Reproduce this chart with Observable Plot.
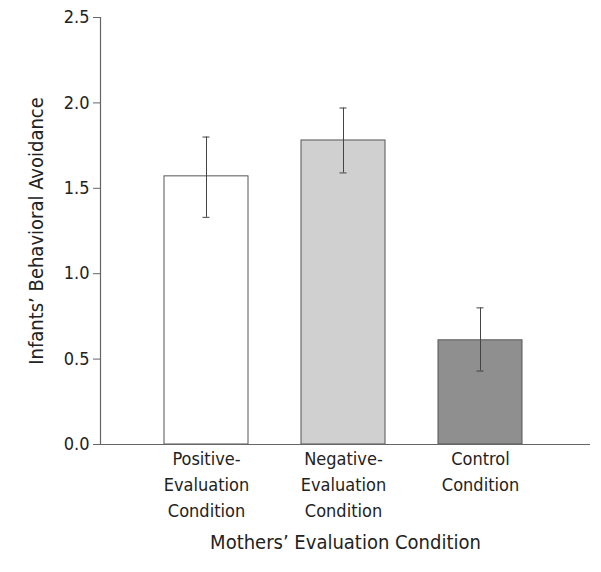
<!DOCTYPE html>
<html>
<head>
<meta charset="utf-8">
<script src="https://cdn.jsdelivr.net/npm/d3@7"></script>
<script src="https://cdn.jsdelivr.net/npm/@observablehq/plot@0.6"></script>
<style>
  body { margin: 0; background: white; }
</style>
</head>
<body>
<div id="chart"></div>
<script>
const categories = ["Positive-Evaluation Condition", "Negative-Evaluation Condition", "Control Condition"];
const tickLabels = ["Positive-\nEvaluation\nCondition", "Negative-\nEvaluation\nCondition", "Control\nCondition"];
const means = [1.57, 1.78, 0.61];
const errLow = [1.33, 1.59, 0.43];
const errHigh = [1.80, 1.97, 0.80];
const barColors = ["#ffffff", "#d0d0d0", "#8f8f8f"];
const yTicks = [0, 0.5, 1.0, 1.5, 2.0, 2.5];
const yLabel = "Infants’ Behavioral Avoidance";
const xLabel = "Mothers’ Evaluation Condition";

const data = categories.map((c, i) => ({
  cat: c, mean: means[i], lo: errLow[i], hi: errHigh[i], color: barColors[i]
}));
const labelOf = new Map(categories.map((c, i) => [c, tickLabels[i]]));

const font = "'Liberation Sans Narrow', 'DejaVu Sans Condensed', 'Roboto Condensed', sans-serif";

const chart = Plot.plot({
  width: 601,
  height: 572,
  marginLeft: 100,
  marginRight: 11,
  marginTop: 17,
  marginBottom: 128,
  style: { fontFamily: font, fontSize: "18px", color: "#222", background: "white", overflow: "visible" },
  x: { domain: categories, paddingInner: 0.384, paddingOuter: 0.4676, align: 0.488 },
  y: { domain: [0, 2.5] },
  marks: [
    Plot.barY(data, { x: "cat", y: "mean", fill: "color", stroke: "#555", strokeWidth: 1 }),
    Plot.ruleX(data, { x: "cat", y1: "lo", y2: "hi", stroke: "#444", strokeWidth: 1 }),
    Plot.tickY(data, { x: "cat", y: "lo", stroke: "#444", insetLeft: 38.5, insetRight: 38.5 }),
    Plot.tickY(data, { x: "cat", y: "hi", stroke: "#444", insetLeft: 38.5, insetRight: 38.5 }),
    Plot.ruleY([0], { stroke: "#666", strokeWidth: 1.2 }),
    Plot.frame({ anchor: "left", stroke: "#666", strokeWidth: 1.2 }),
    Plot.axisY({ ticks: yTicks, tickFormat: d3.format(".1f"), tickSize: 7, tickPadding: 4, label: null, stroke: "#666", fontSize: 18 }),
    Plot.axisY({ ticks: [], label: yLabel, labelAnchor: "center", labelArrow: "none", labelOffset: 72, fontSize: 20 }),
    Plot.axisX({ tickSize: 0, tickPadding: 2, tickFormat: d => labelOf.get(d), lineHeight: 1.45, label: null, fontSize: 18 }),
    Plot.text([xLabel], { frameAnchor: "bottom", dy: 104, fontSize: 20, fill: "#222" })
  ]
});
document.getElementById("chart").appendChild(chart);
</script>
</body>
</html>
